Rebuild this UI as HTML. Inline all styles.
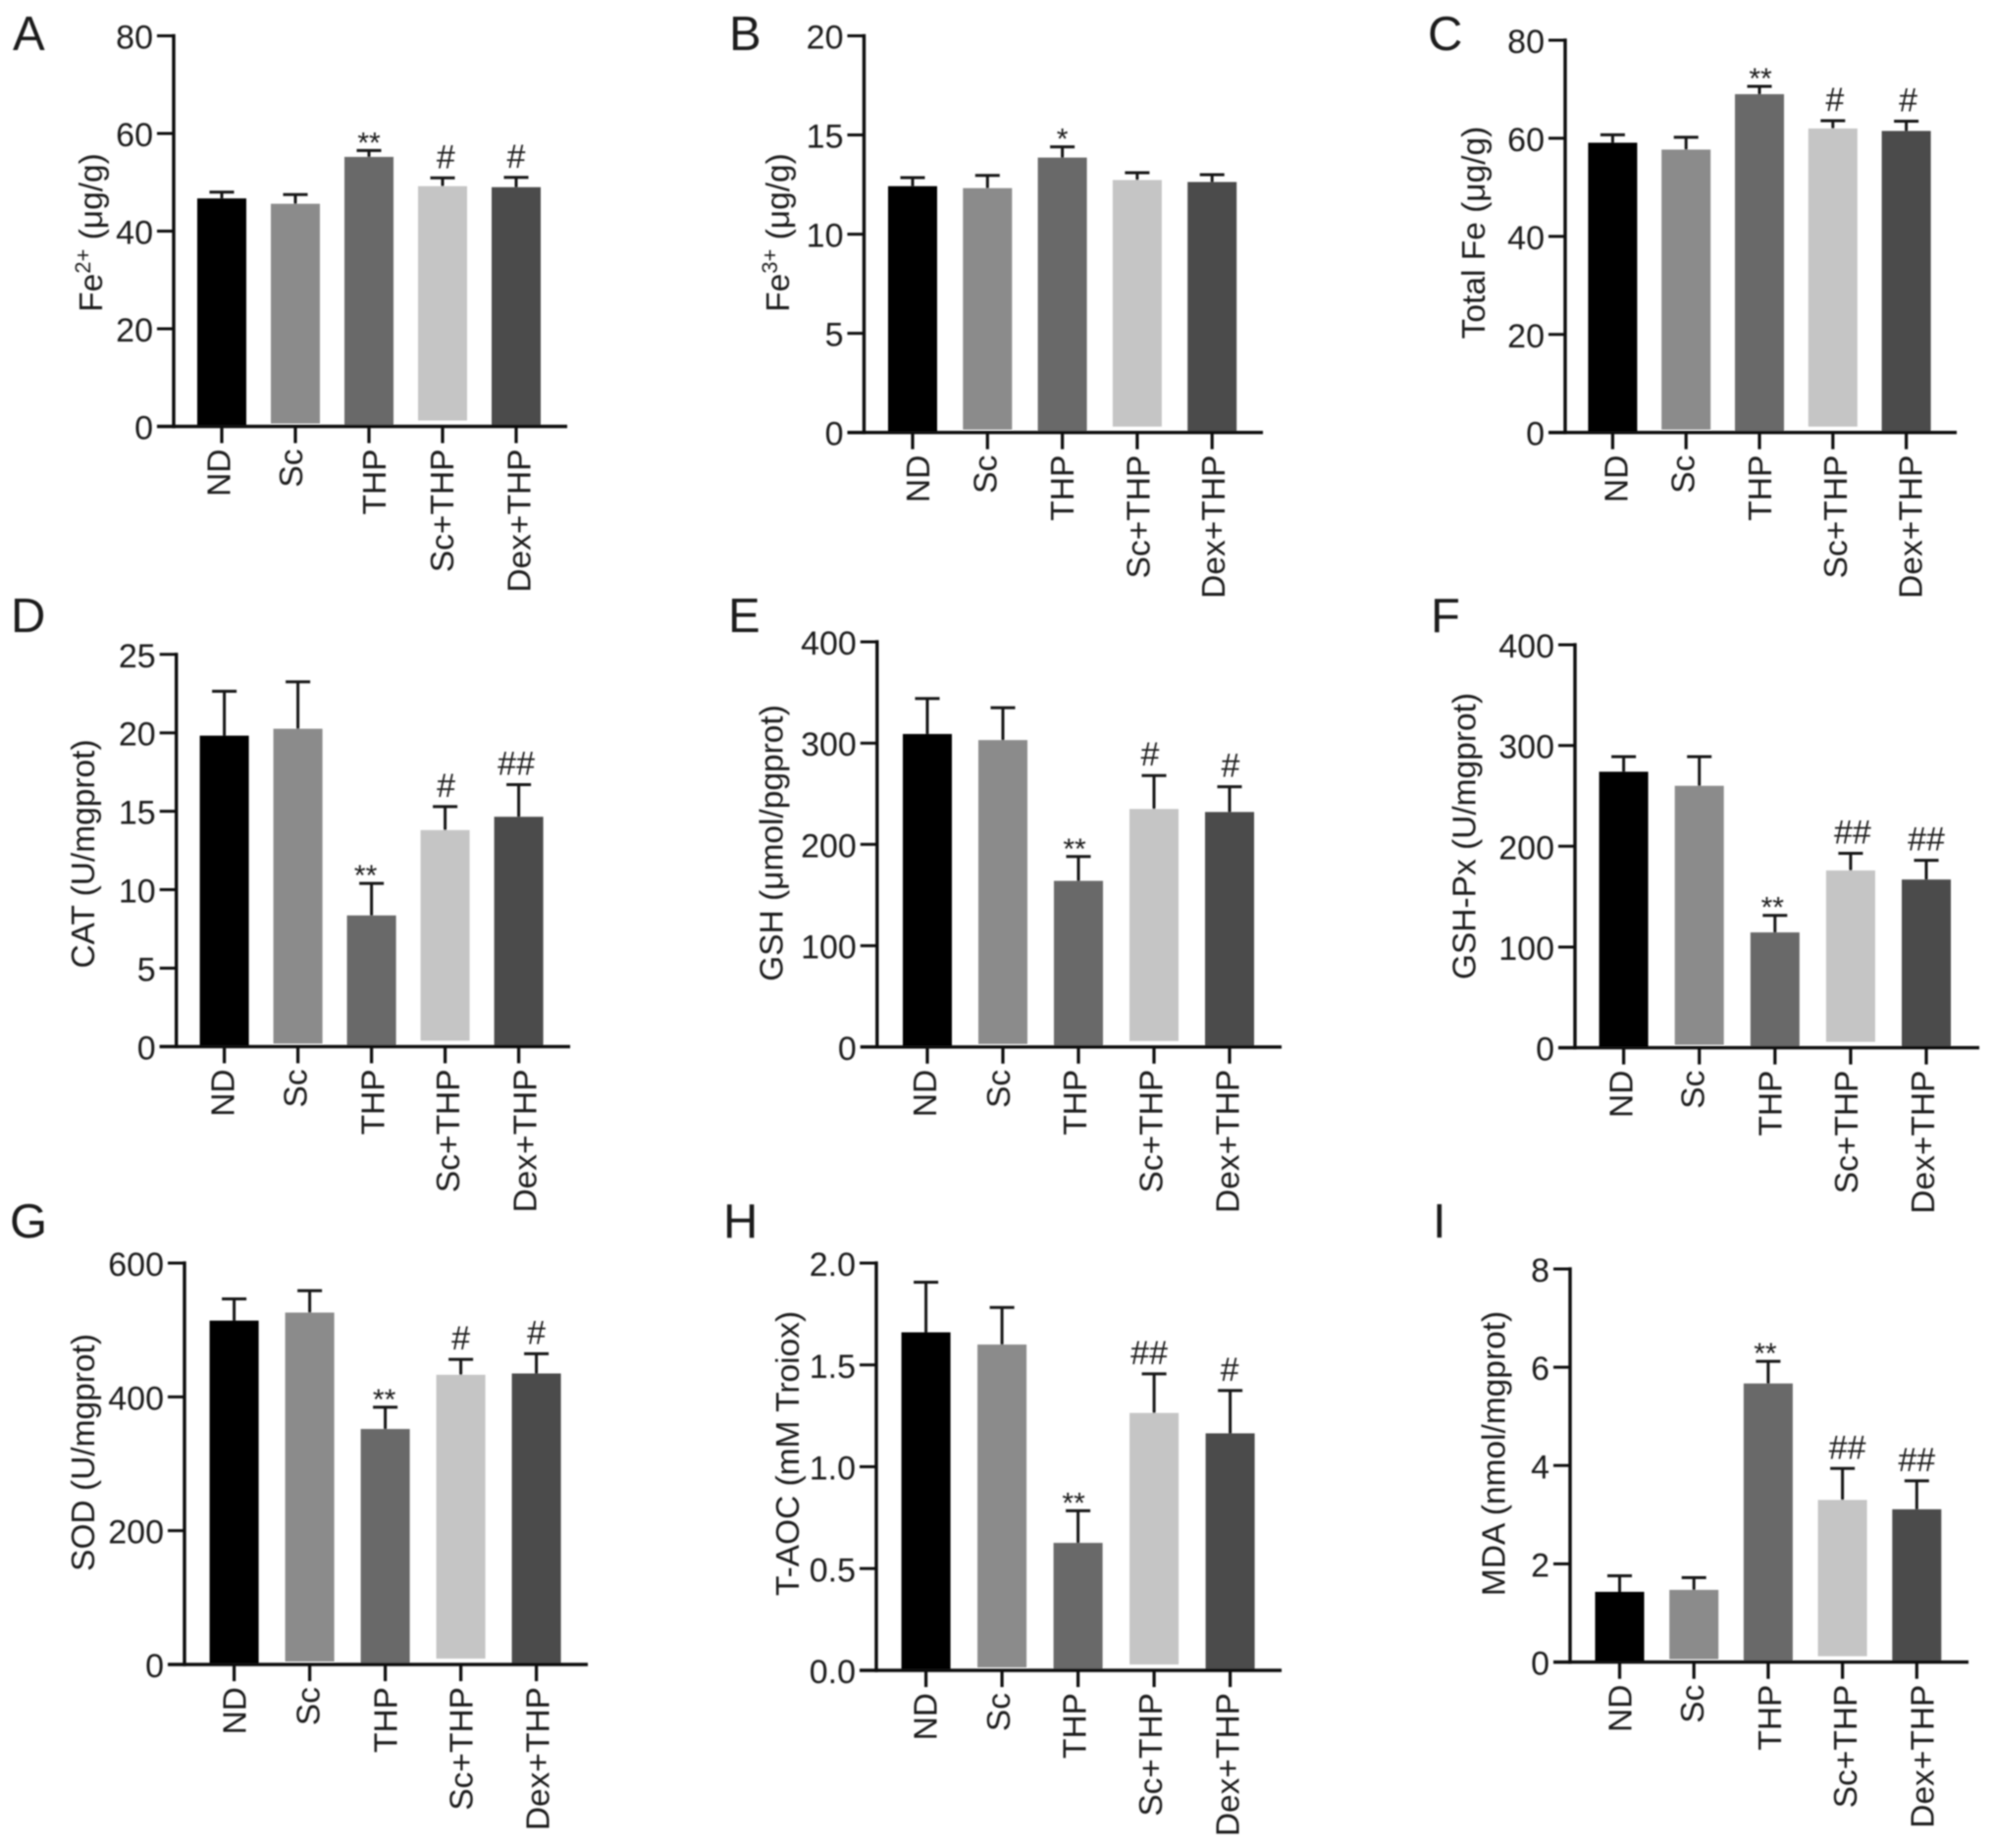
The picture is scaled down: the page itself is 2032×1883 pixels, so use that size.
<!DOCTYPE html>
<html lang="en">
<head>
<meta charset="utf-8">
<title>Iron and oxidative stress markers by treatment group</title>
<style>
html,body{margin:0;padding:0;background:#fff;width:2032px;height:1883px;overflow:hidden}
svg{display:block}
text{font-family:"Liberation Sans",Arial,sans-serif;fill:#1c1c1c}
</style>
</head>
<body>
<svg id="figure" xmlns="http://www.w3.org/2000/svg" width="2032" height="1883" viewBox="0 0 2032 1883">
<defs><filter id="soft" x="-2%" y="-2%" width="104%" height="104%"><feGaussianBlur stdDeviation="0.7"/></filter></defs>
<rect x="0" y="0" width="2032" height="1883" fill="#ffffff"/>
<g id="root" filter="url(#soft)"></g>
</svg>
<script>
const categories = ["ND","Sc","THP","Sc+THP","Dex+THP"];
const barColors = ["#000000","#8b8b8b","#696969","#c5c5c5","#4b4b4b"];

const ticksA = [0,20,40,60,80];
const valuesA = [46.7,45.6,55.2,49.2,49.0];
const errorTopsA = [48.0,47.5,56.5,50.9,51.0];
const marksA = ["","","**","#","#"];

const ticksB = [0,5,10,15,20];
const valuesB = [12.42,12.32,13.86,12.73,12.63];
const errorTopsB = [12.85,12.96,14.4,13.1,13.0];
const marksB = ["","","*","",""];

const ticksC = [0,20,40,60,80];
const valuesC = [59.1,57.7,69.0,62.0,61.5];
const errorTopsC = [60.7,60.2,70.6,63.6,63.5];
const marksC = ["","","**","#","#"];

const ticksD = [0,5,10,15,20,25];
const valuesD = [19.82,20.26,8.36,13.8,14.65];
const errorTopsD = [22.65,23.25,10.4,15.3,16.7];
const marksD = ["","","**","#","##"];

const ticksE = [0,100,200,300,400];
const valuesE = [309,303,164,235,232];
const errorTopsE = [344,335,188,268,257];
const marksE = ["","","**","#","#"];

const ticksF = [0,100,200,300,400];
const valuesF = [274,260,114.5,176,167];
const errorTopsF = [289,289,131.4,193,186];
const marksF = ["","","**","##","##"];

const ticksG = [0,200,400,600];
const valuesG = [514,526,352,433,435];
const errorTopsG = [546.5,558.7,384.6,456,464.4];
const marksG = ["","","**","#","#"];

const ticksH = ["0.0","0.5","1.0","1.5","2.0"];
const valuesH = [1.66,1.60,0.626,1.264,1.164];
const errorTopsH = [1.906,1.782,0.784,1.456,1.374];
const marksH = ["","","**","##","#"];

const ticksI = [0,2,4,6,8];
const valuesI = [1.43,1.47,5.67,3.30,3.11];
const errorTopsI = [1.756,1.72,6.12,3.94,3.69];
const marksI = ["","","**","##","##"];

const SVGNS = "http://www.w3.org/2000/svg";
const root = document.getElementById("root");
const barInsets = [0,3,1,6,1];
const TICK_FONT = 34;
const CATEGORY_FONT = 33.5;

function make(parent, tag, attrs, txt) {
  const n = document.createElementNS(SVGNS, tag);
  for (const k in attrs) n.setAttribute(k, attrs[k]);
  if (txt !== undefined) n.textContent = txt;
  parent.appendChild(n);
  return n;
}

function drawPanel(p) {
  const id = p.letter.toLowerCase();
  const g = make(root, "g", {});
  
  

  const yMax = Number(p.ticks[p.ticks.length - 1]);
  const yScale = v => p.y0 - (v / yMax) * (p.y0 - p.yTop);
  const xScale = i => p.x0 + i * p.step;

  const letter = make(g, "text", {x:p.letterX, y:p.letterY, "font-size":49}, p.letter);
  
  

  p.values.forEach((v, i) => {
    const cx = xScale(i);
    const top = yScale(v);
    const bar = make(g, "rect", {x:cx - 25, y:top, width:50, height:Math.max(0, p.y0 - top - barInsets[i]), fill:barColors[i]});
    
    

    const et = yScale(p.errors[i]);
    const stem = make(g, "line", {x1:cx, x2:cx, y1:top, y2:et, stroke:"#151515", "stroke-width":3});
    
    
    const cap = make(g, "line", {x1:cx - 12.5, x2:cx + 12.5, y1:et, y2:et, stroke:"#151515", "stroke-width":3});
    
    

    const m = p.marks[i];
    if (m) {
      const isStar = m[0] === "*";
      const mark = make(g, "text", {x:cx + p.markDx[i], y:et + (isStar ? 2 : -10), "font-size":isStar ? 30 : 34, "text-anchor":"middle"}, m);
      
      
    }
  });

  const yAxis = make(g, "line", {x1:p.axisX, x2:p.axisX, y1:p.yTop - 1.7, y2:p.y0 + 1.7, stroke:"#111", "stroke-width":3.4});
  
  
  const xAxis = make(g, "line", {x1:p.axisX - 17, x2:p.xEnd, y1:p.y0, y2:p.y0, stroke:"#111", "stroke-width":3.4});
  
  

  p.ticks.forEach(t => {
    const y = yScale(Number(t));
    const tick = make(g, "line", {x1:p.axisX - 17, x2:p.axisX, y1:y, y2:y, stroke:"#111", "stroke-width":3});
    
    
    const label = make(g, "text", {x:p.axisX - 21, y:y + 13, "font-size":TICK_FONT, "text-anchor":"end"}, String(t));
    
    
  });

  categories.forEach((c, i) => {
    const cx = xScale(i);
    const tick = make(g, "line", {x1:cx, x2:cx, y1:p.y0, y2:p.y0 + 17, stroke:"#111", "stroke-width":3.2});
    
    
    const ly = p.y0 + 23;
    const lx = cx + 12 + p.labelDx[i];
    const label = make(g, "text", {x:lx, y:ly, "font-size":CATEGORY_FONT, "text-anchor":"end", transform:"rotate(-90 " + lx + " " + ly + ")"}, c);
    
    
  });

  const title = make(g, "text", {x:p.titleX, y:p.titleY, "font-size":33.5, "text-anchor":"middle", transform:"rotate(-90 " + p.titleX + " " + p.titleY + ")"});
  
  
  make(title, "tspan", {}, p.title[0]);
  if (p.title[1]) {
    make(title, "tspan", {dy:-12, "font-size":22}, p.title[1]);
    make(title, "tspan", {dy:12}, "\u00a0" + p.title[2]);
  }
}

const panels = [
  {letter:"A", letterX:13, letterY:51, axisX:177, yTop:36.5, y0:434.5, x0:226, step:75, xEnd:578, titleX:104, titleY:237, labelDx:[-3.3,-5,5,-1,2.5], markDx:[0,0,0,3.3,0], ticks:ticksA, values:valuesA, errors:errorTopsA, marks:marksA, title:["Fe","2+","(\u03bcg/g)"]},
  {letter:"B", letterX:743, letterY:51, axisX:880.5, yTop:36.5, y0:440.7, x0:930, step:76.3, xEnd:1287, titleX:804, titleY:237, labelDx:[5,-3,-0.5,0.5,1], markDx:[0,0,0,0,0], ticks:ticksB, values:valuesB, errors:errorTopsB, marks:marksB, title:["Fe","3+","(\u03bcg/g)"]},
  {letter:"C", letterX:1455, letterY:51, axisX:1595, yTop:41, y0:440.7, x0:1643.4, step:74.8, xEnd:1994, titleX:1513, titleY:237, labelDx:[3,-3.7,0,2,4], markDx:[0,0,1,2,2], ticks:ticksC, values:valuesC, errors:errorTopsC, marks:marksC, title:["Total Fe (\u03bcg/g)"]},
  {letter:"D", letterX:11, letterY:644, axisX:179.7, yTop:666.8, y0:1066.4, x0:228.6, step:75, xEnd:581, titleX:96, titleY:870, labelDx:[-2,-3.3,1,2.5,6], markDx:[0,0,-6,1,-2.5], ticks:ticksD, values:valuesD, errors:errorTopsD, marks:marksD, title:["CAT (U/mgprot)"]},
  {letter:"E", letterX:742, letterY:644, axisX:893.8, yTop:654, y0:1066.8, x0:945, step:77, xEnd:1306, titleX:797.5, titleY:859, labelDx:[-3,-5,-4,-3.3,-2.5], markDx:[0,0,-4,-4,1], ticks:ticksE, values:valuesE, errors:errorTopsE, marks:marksE, title:["GSH (\u03bcmol/pgprot)"]},
  {letter:"F", letterX:1458, letterY:644, axisX:1605, yTop:657, y0:1067.6, x0:1654.6, step:77.1, xEnd:2017, titleX:1503.6, titleY:852, labelDx:[-3,-7,-5.4,-5,-4], markDx:[0,0,-2.5,2,0], ticks:ticksF, values:valuesF, errors:errorTopsF, marks:marksF, title:["GSH-Px (U/mgprot)"]},
  {letter:"G", letterX:10, letterY:1261, axisX:188, yTop:1287, y0:1696, x0:238.6, step:77, xEnd:599, titleX:96, titleY:1480, labelDx:[0,-2,0,0,1], markDx:[0,0,-1,0,0], ticks:ticksG, values:valuesG, errors:errorTopsG, marks:marksG, title:["SOD (U/mgprot)"]},
  {letter:"H", letterX:737, letterY:1261, axisX:893, yTop:1287, y0:1702, x0:943.6, step:77.5, xEnd:1306, titleX:814, titleY:1481, labelDx:[-1,-4,-4,-4,-3], markDx:[0,0,-4.5,-5,-0.5], ticks:ticksH, values:valuesH, errors:errorTopsH, marks:marksH, title:["T-AOC (mM Troiox)"]},
  {letter:"I", letterX:1460, letterY:1261, axisX:1600, yTop:1293, y0:1693.6, x0:1650.5, step:75.7, xEnd:2006, titleX:1533.5, titleY:1481, labelDx:[0,-2,1,2.5,5], markDx:[0,0,-3,5,0], ticks:ticksI, values:valuesI, errors:errorTopsI, marks:marksI, title:["MDA (nmol/mgprot)"]}
];
panels.forEach(drawPanel);
</script>
</body>
</html>
